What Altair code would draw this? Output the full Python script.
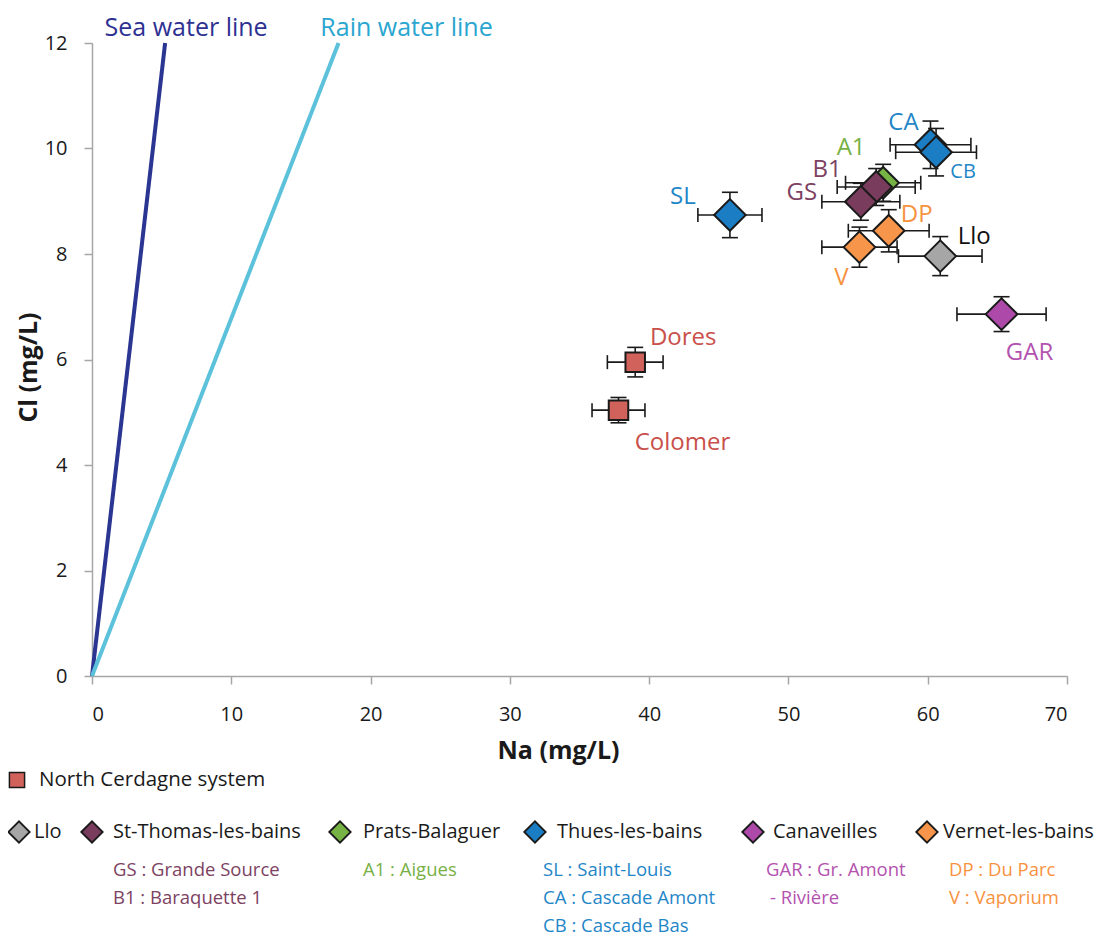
import altair as alt
import pandas as pd

# ---------------- data ----------------
sites = ["Colomer", "Dores", "Llo", "A1", "B1", "GS", "SL", "CA", "CB", "GAR", "DP", "V"]
systems = ["North Cerdagne system", "North Cerdagne system", "Llo", "Prats-Balaguer",
           "St-Thomas-les-bains", "St-Thomas-les-bains", "Thues-les-bains", "Thues-les-bains",
           "Thues-les-bains", "Canaveilles", "Vernet-les-bains", "Vernet-les-bains"]
na = [37.8, 39.0, 60.9, 56.8, 56.3, 55.2, 45.8, 60.2, 60.6, 65.3, 57.2, 55.1]
cl = [5.04, 5.95, 7.96, 9.35, 9.27, 8.99, 8.74, 10.07, 9.93, 6.86, 8.44, 8.13]
na_err = [1.9, 2.0, 3.0, 2.7, 2.8, 2.8, 2.3, 2.9, 2.9, 3.2, 2.9, 2.7]
cl_err = [0.24, 0.28, 0.37, 0.35, 0.35, 0.35, 0.43, 0.45, 0.45, 0.33, 0.40, 0.38]

line_names = ["Sea water line", "Rain water line"]
line_na_end = [5.25, 17.7]
line_cl_end = [12, 12]

legend_top = "North Cerdagne system"
legend_groups = ["Llo", "St-Thomas-les-bains", "Prats-Balaguer", "Thues-les-bains",
                 "Canaveilles", "Vernet-les-bains"]
legend_notes = [[], ["GS : Grande Source", "B1 : Baraquette 1"], ["A1 : Aigues"],
                ["SL : Saint-Louis", "CA : Cascade Amont", "CB : Cascade Bas"],
                ["GAR : Gr. Amont", " - Rivière"], ["DP : Du Parc", "V : Vaporium"]]

x_ticks = [0, 10, 20, 30, 40, 50, 60, 70]
y_ticks = [0, 2, 4, 6, 8, 10, 12]

# ---------------- styles ----------------
FONT = "Open Sans"
INK = "#1a1a1a"
FILL = {
    "North Cerdagne system": "#D0625B",
    "Llo": "#A6A6A6",
    "St-Thomas-les-bains": "#7A3C5D",
    "Prats-Balaguer": "#77B244",
    "Thues-les-bains": "#1B7DC3",
    "Canaveilles": "#AD4AA9",
    "Vernet-les-bains": "#F7964A",
}
TEXT = {
    "North Cerdagne system": "#C9504B",
    "Llo": "#111111",
    "St-Thomas-les-bains": "#7D4262",
    "Prats-Balaguer": "#78B045",
    "Thues-les-bains": "#1F86C7",
    "Canaveilles": "#B352AF",
    "Vernet-les-bains": "#F7923F",
}
LINE_COL = {"Sea water line": "#2B3592", "Rain water line": "#5CC1DA"}
LINE_TEXT = {"Sea water line": "#2E3192", "Rain water line": "#2AA6D0"}
LINE_LABEL_DX = {"Sea water line": 21, "Rain water line": 68}
LABEL_POS = {  # dx, dy, fontsize
    "Colomer": (64, 33, 24), "Dores": (48, -24, 24), "Llo": (34, -19, 24),
    "A1": (-32, -35, 24), "B1": (-49, -17, 24), "GS": (-59, -9, 24),
    "SL": (-47, -18, 24), "CA": (-27, -22, 24), "CB": (27, 20, 20),
    "GAR": (28, 39, 24), "DP": (28, -16, 24), "V": (-18, 31, 24),
}
# legend layout (pixels relative to plot origin)
LEG_TOP = {"mx": -75, "tx": -53, "y": 737}
LEG_ROW_Y = 789
LEG_MARK_X = [-73, 0, 248, 443, 661, 835]
LEG_TEXT_X = [-58, 21, 271, 465, 681, 851]
LEG_NOTE_X = [None, 21, 271, 451, 674, 857]
LEG_NOTE_Y = [827, 855, 883]

W, H = 975, 633

df = pd.DataFrame({"site": sites, "system": systems, "na": na, "cl": cl,
                   "na_err": na_err, "cl_err": cl_err})
df["na_lo"] = df["na"] - df["na_err"]
df["na_hi"] = df["na"] + df["na_err"]
df["cl_lo"] = df["cl"] - df["cl_err"]
df["cl_hi"] = df["cl"] + df["cl_err"]
df["fill"] = df["system"].map(FILL)

xscale = alt.Scale(domain=[0, 70], nice=False, zero=False)
yscale = alt.Scale(domain=[0, 12], nice=False, zero=False)
xaxis = alt.Axis(values=x_ticks, title="Na (mg/L)", labelPadding=20, tickSize=8,
                 titleX=466, titleY=74, titleBaseline="middle", titleAlign="center",
                 grid=False)
yaxis = alt.Axis(values=y_ticks, title="Cl (mg/L)", labelPadding=17, tickSize=8,
                 titleX=-64, titleY=324, titleBaseline="middle", titleAlign="center",
                 titleAngle=270, grid=False)


def X(f):
    return alt.X(f"{f}:Q", scale=xscale, axis=xaxis)


def Y(f):
    return alt.Y(f"{f}:Q", scale=yscale, axis=yaxis)


def X2(f):
    return alt.X2(f"{f}:Q")


def Y2(f):
    return alt.Y2(f"{f}:Q")


# reference lines
rows = []
for n, xe, ye in zip(line_names, line_na_end, line_cl_end):
    rows.append({"line": n, "na": 0, "cl": 0, "col": LINE_COL[n]})
    rows.append({"line": n, "na": xe, "cl": ye, "col": LINE_COL[n]})
lines_df = pd.DataFrame(rows)
lines = alt.Chart(lines_df).mark_line(strokeWidth=4, clip=False).encode(
    x=X("na"), y=Y("cl"), color=alt.Color("col:N", scale=None), detail="line:N")

line_labels = []
for n, xe, ye in zip(line_names, line_na_end, line_cl_end):
    d = pd.DataFrame({"line": [n], "na": [xe], "cl": [ye]})
    line_labels.append(alt.Chart(d).mark_text(
        font=FONT, fontSize=25, color=LINE_TEXT[n], dx=LINE_LABEL_DX[n], dy=-15,
        baseline="middle", align="center").encode(x=X("na"), y=Y("cl"), text="line:N"))

# error bars
base = alt.Chart(df)
ebx = base.mark_rule(color=INK, strokeWidth=1.6).encode(x=X("na_lo"), x2=X2("na_hi"), y=Y("cl"))
eby = base.mark_rule(color=INK, strokeWidth=1.6).encode(x=X("na"), y=Y("cl_lo"), y2=Y2("cl_hi"))
capx_lo = base.mark_tick(orient="vertical", size=14, thickness=1.6, color=INK, opacity=1).encode(
    x=X("na_lo"), y=Y("cl"))
capx_hi = base.mark_tick(orient="vertical", size=14, thickness=1.6, color=INK, opacity=1).encode(
    x=X("na_hi"), y=Y("cl"))
capy_lo = base.mark_tick(orient="horizontal", size=16, thickness=1.6, color=INK, opacity=1).encode(
    x=X("na"), y=Y("cl_lo"))
capy_hi = base.mark_tick(orient="horizontal", size=16, thickness=1.6, color=INK, opacity=1).encode(
    x=X("na"), y=Y("cl_hi"))

squares = base.transform_filter(alt.datum.system == "North Cerdagne system").mark_point(
    shape="square", filled=True, size=380, stroke=INK, strokeWidth=2, opacity=1).encode(
    x=X("na"), y=Y("cl"), fill=alt.Fill("fill:N", scale=None))
diamonds = base.transform_filter(alt.datum.system != "North Cerdagne system").mark_point(
    shape="diamond", filled=True, size=1000, stroke=INK, strokeWidth=2, opacity=1).encode(
    x=X("na"), y=Y("cl"), fill=alt.Fill("fill:N", scale=None))

labels = []
for s, sy in zip(sites, systems):
    dx, dy, fs = LABEL_POS[s]
    labels.append(alt.Chart(df[df.site == s]).mark_text(
        font=FONT, fontSize=fs, color=TEXT[sy], dx=dx, dy=dy, align="center",
        baseline="middle").encode(x=X("na"), y=Y("cl"), text="site:N"))

# custom legend
one = pd.DataFrame({"k": [0]})
legend = []
legend.append(alt.Chart(one).mark_point(shape="square", filled=True, size=230, stroke=INK,
                                         strokeWidth=1.5, opacity=1,
                                         fill=FILL[legend_top]).encode(
    x=alt.value(LEG_TOP["mx"]), y=alt.value(LEG_TOP["y"])))
legend.append(alt.Chart(one).mark_text(font=FONT, fontSize=20.5, color=INK, align="left",
                                        baseline="middle", text=legend_top).encode(
    x=alt.value(LEG_TOP["tx"]), y=alt.value(LEG_TOP["y"])))
for i, g in enumerate(legend_groups):
    legend.append(alt.Chart(one).mark_point(shape="diamond", filled=True, size=460, stroke=INK,
                                             strokeWidth=1.8, opacity=1, fill=FILL[g]).encode(
        x=alt.value(LEG_MARK_X[i]), y=alt.value(LEG_ROW_Y)))
    legend.append(alt.Chart(one).mark_text(font=FONT, fontSize=20, color=INK, align="left",
                                            baseline="middle", text=g).encode(
        x=alt.value(LEG_TEXT_X[i]), y=alt.value(LEG_ROW_Y)))
    for j, note in enumerate(legend_notes[i]):
        xx = LEG_NOTE_X[i] + (4 if note.startswith(" -") else 0)
        legend.append(alt.Chart(one).mark_text(font=FONT, fontSize=18.5, color=TEXT[g],
                                                align="left", baseline="middle",
                                                text=note.strip()).encode(
            x=alt.value(xx), y=alt.value(LEG_NOTE_Y[j])))

chart = alt.layer(
    lines, *line_labels, ebx, eby, capx_lo, capx_hi, capy_lo, capy_hi,
    squares, diamonds, *labels, *legend
).properties(
    width=W, height=H,
    autosize=alt.AutoSizeParams(type="none"),
    padding={"left": 84, "top": 35, "right": 30, "bottom": 262},
).configure(font=FONT).configure_view(stroke=None).configure_axis(
    grid=False, domainColor="#A6A6A6", domainWidth=1.5, tickColor="#A6A6A6", tickWidth=1.5,
    labelFont=FONT, labelFontSize=20, labelColor=INK,
    titleFont=FONT, titleFontSize=25, titleFontWeight="bold", titleColor=INK,
)

chart.save("out.html", embed_options={"renderer": "svg", "actions": False})
